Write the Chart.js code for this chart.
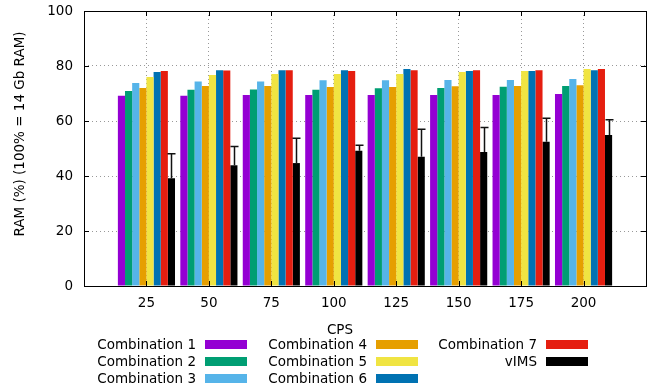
<!DOCTYPE html>
<html>
<head>
<meta charset="utf-8">
<script src="https://cdn.jsdelivr.net/npm/chart.js@4"></script>
<style>
  html, body { margin: 0; padding: 0; background: #fff; }
  #wrap { position: relative; width: 653px; height: 389px; font-family: 'DejaVu Sans', sans-serif; }
  #chart { position: absolute; left: 0; top: 0; }
  .lg-text { position: absolute; font-size: 13.5px; color: #000; text-align: right; white-space: nowrap; line-height: 16px; }
  .lg-box { position: absolute; width: 42px; height: 9px; }
</style>
</head>
<body>
<div id="wrap">
  <canvas id="chart" width="653" height="389"></canvas>
</div>
<script>
// categories (blank slots at both ends keep gnuplot's spacing)
const CPS = ['', '25', '50', '75', '100', '125', '150', '175', '200', '']

const SERIES_NAMES = ['Combination 1', 'Combination 2', 'Combination 3', 'Combination 4',
  'Combination 5', 'Combination 6', 'Combination 7', 'vIMS']
const COLORS = ['#9400d3', '#009e73', '#56b4e9', '#e69f00', '#f0e442', '#0072b2', '#e51e10', '#000000']

const combo1 = [69.2, 69.2, 69.5, 69.5, 69.5, 69.5, 69.5, 69.8]
const combo2 = [70.9, 71.4, 71.5, 71.4, 71.9, 72.0, 72.5, 72.7]
const combo3 = [73.8, 74.4, 74.4, 74.8, 74.8, 74.9, 74.9, 75.3]
const combo4 = [72.0, 72.7, 72.7, 72.4, 72.4, 72.6, 72.7, 73.0]
const combo5 = [76.0, 76.7, 77.1, 77.1, 77.1, 77.8, 78.2, 78.9]
const combo6 = [77.8, 78.5, 78.5, 78.5, 78.9, 78.2, 78.2, 78.5]
const combo7 = [78.2, 78.4, 78.5, 78.2, 78.5, 78.5, 78.5, 78.9]
const vims = [39.2, 43.9, 44.7, 49.2, 47.0, 48.7, 52.5, 54.9]
const vimsErr = [8.9, 6.8, 9.0, 2.0, 10.0, 8.9, 8.5, 5.6]

const Y_TICKS = [0, 20, 40, 60, 80, 100]

const pad = arr => [null, ...arr, null]
const SERIES = [combo1, combo2, combo3, combo4, combo5, combo6, combo7, vims]

const FONT = {family: "'DejaVu Sans', sans-serif", size: 13.5}

const frameAndLabels = {
  id: 'frameAndLabels',
  afterDatasetsDraw(chart) {
    const {ctx, chartArea: a, scales} = chart
    // error bars on vIMS (lower half is hidden by the black bar)
    const meta = chart.getDatasetMeta(7)
    ctx.save()
    ctx.strokeStyle = '#111'
    ctx.lineWidth = 1.5
    meta.data.forEach((bar, i) => {
      const v = chart.data.datasets[7].data[i]
      if (v == null) return
      const e = vimsErr[i - 1]
      const x = Math.round(bar.x) + 0.5
      const yTop = scales.y.getPixelForValue(v + e)
      const yVal = scales.y.getPixelForValue(v)
      ctx.beginPath()
      ctx.moveTo(x, yVal)
      ctx.lineTo(x, yTop)
      ctx.moveTo(x - 4, yTop)
      ctx.lineTo(x + 4, yTop)
      ctx.stroke()
    })
    // frame
    ctx.strokeStyle = '#000'
    ctx.lineWidth = 1
    ctx.strokeRect(a.left + 0.5, a.top + 0.5, a.right - a.left, a.bottom - a.top)
    // tick marks (inside + mirrored)
    ctx.beginPath()
    Y_TICKS.forEach(t => {
      const y = Math.round(scales.y.getPixelForValue(t)) + 0.5
      ctx.moveTo(a.left, y); ctx.lineTo(a.left + 5, y)
      ctx.moveTo(a.right, y); ctx.lineTo(a.right - 5, y)
    })
    CPS.forEach((c, i) => {
      if (!c) return
      const x = Math.round(scales.x.getPixelForValue(i)) + 0.5
      ctx.moveTo(x, a.bottom); ctx.lineTo(x, a.bottom - 5)
      ctx.moveTo(x, a.top); ctx.lineTo(x, a.top + 5)
    })
    ctx.stroke()
    // axis titles
    ctx.fillStyle = '#000'
    ctx.font = `${FONT.size}px ${FONT.family}`
    ctx.textAlign = 'center'
    ctx.textBaseline = 'middle'
    ctx.fillText('CPS', 340, 330)
    ctx.translate(20, 134)
    ctx.rotate(-Math.PI / 2)
    ctx.fillText('RAM (%) (100% = 14 Gb RAM)', 0, 0)
    ctx.restore()
  },
}

new Chart(document.getElementById('chart'), {
  type: 'bar',
  data: {
    labels: CPS,
    datasets: SERIES.map((s, i) => ({
      label: SERIES_NAMES[i],
      data: pad(s),
      backgroundColor: COLORS[i],
      borderWidth: 0,
      categoryPercentage: 0.915,
      barPercentage: 1,
    })),
  },
  options: {
    responsive: false,
    animation: false,
    layout: {padding: {left: 0, right: 7, top: 11, bottom: 0}},
    plugins: {legend: {display: false}, tooltip: {enabled: false}},
    scales: {
      x: {
        offset: false,
        grid: {offset: false, color: '#999', lineWidth: 1, drawTicks: false},
        border: {display: false, dash: [1, 3]},
        ticks: {color: '#000', font: FONT, padding: 9, maxRotation: 0, autoSkip: false},
        afterFit: s => { s.height = 103; s.paddingLeft = 0; s.paddingRight = 0 },
      },
      y: {
        min: 0,
        max: 100,
        grid: {color: '#999', lineWidth: 1, drawTicks: false},
        border: {display: false, dash: [1, 3]},
        ticks: {color: '#000', font: FONT, padding: 11, stepSize: 20},
        afterFit: s => { s.width = 84; s.paddingTop = 0; s.paddingBottom = 0 },
      },
    },
  },
  plugins: [frameAndLabels],
})

// gnuplot-style key: text right-aligned, swatch to its right
const wrap = document.getElementById('wrap')
const COL_TEXT_RIGHT = [196, 367, 537]
const ROW_Y = [344, 361, 378]
const KEY_ORDER = [[0, 1, 2], [3, 4, 5], [6, 7]]
KEY_ORDER.forEach((col, c) => {
  col.forEach((si, r) => {
    const t = document.createElement('div')
    t.className = 'lg-text'
    t.textContent = SERIES_NAMES[si]
    t.style.right = (653 - COL_TEXT_RIGHT[c]) + 'px'
    t.style.top = (ROW_Y[r] - 8) + 'px'
    wrap.appendChild(t)
    const b = document.createElement('div')
    b.className = 'lg-box'
    b.style.background = COLORS[si]
    b.style.left = (COL_TEXT_RIGHT[c] + 9) + 'px'
    b.style.top = (ROW_Y[r] - 4.5) + 'px'
    wrap.appendChild(b)
  })
})
</script>
</body>
</html>
